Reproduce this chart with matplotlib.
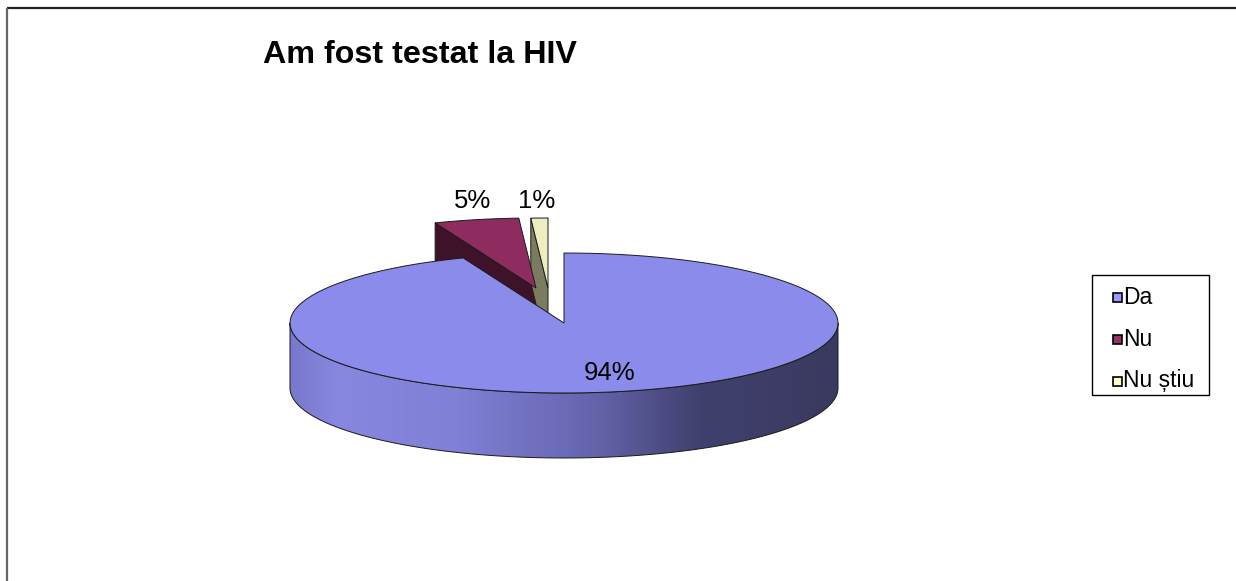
import numpy as np
import matplotlib.pyplot as plt
from matplotlib.patches import Polygon, Rectangle
from matplotlib.colors import LinearSegmentedColormap

plt.rcParams['font.family'] = ['Liberation Sans', 'DejaVu Sans']

labels = ['Da', 'Nu', 'Nu știu']
values = [94, 5, 1]
pct_labels = ['94%', '5%', '1%']
title = 'Am fost testat la HIV'

# styles
top_colors = ['#8B8BEB', '#8E2C60', '#EDEDC0']
face_colors = [None, '#3E1329', '#7B7B5F']
legend_colors = ['#9999FF', '#993366', '#FFFFCC']
explode_px = [(0, 0), (-28, -35), (-16, -35)]
label_pos = [(610, 373), (473, 201), (537, 201)]

W, H = 1236, 581
cx, cy, rx, ry, depth = 564, 323, 274, 70, 65

fig = plt.figure(figsize=(W / 100, H / 100), dpi=100)
ax = fig.add_axes([0, 0, 1, 1])
ax.set_xlim(0, W)
ax.set_ylim(H, 0)
ax.axis('off')

# chart frame (right / bottom edges are cut off)
ax.plot([7, W], [8, 8], color='#222222', lw=1.6, solid_capstyle='butt')
ax.plot([7, 7], [8, H], color='#666666', lw=1.6, solid_capstyle='butt')


def pt(theta, dx=0, dy=0, down=0):
    t = np.radians(theta)
    return cx + dx + rx * np.sin(t), cy + dy - ry * np.cos(t) + down


def arc(a0, a1, dx=0, dy=0, down=0, n=120):
    th = np.linspace(a0, a1, n)
    return [pt(t, dx, dy, down) for t in th]


total = sum(values)
bounds = np.concatenate([[0], np.cumsum(values)]) * 360.0 / total
edge = dict(edgecolor='#1a1a1a', linewidth=0.7)

# exploded small slices at the back
for i in (1, 2):
    a0, a1 = bounds[i], bounds[i + 1]
    dx, dy = explode_px[i]
    face = [pt(a0, dx, dy), (cx + dx, cy + dy), (cx + dx, cy + dy + depth),
            pt(a0, dx, dy, depth)]
    ax.add_patch(Polygon(face, closed=True, facecolor=face_colors[i], zorder=2, **edge))
    top = [(cx + dx, cy + dy)] + arc(a0, a1, dx, dy)
    ax.add_patch(Polygon(top, closed=True, facecolor=top_colors[i], zorder=3, **edge))

# big slice: front side with shading
a0, a1 = bounds[0], bounds[1]
side = arc(90, 270) + arc(270, 90, down=depth)
side_patch = Polygon(side, closed=True, facecolor='none', zorder=5, **edge)
ax.add_patch(side_patch)
shade = LinearSegmentedColormap.from_list('shade', [
    (0.00, '#7878CC'), (0.08, '#8787E0'), (0.30, '#8080D6'),
    (0.55, '#6565AE'), (0.75, '#40406E'), (1.00, '#3A3A60')])
grad = np.linspace(0, 1, 400).reshape(1, -1)
img = ax.imshow(grad, cmap=shade, aspect='auto', zorder=4,
                extent=(cx - rx, cx + rx, cy + depth + ry + 2, cy - 2))
img.set_clip_path(side_patch)
ax.set_xlim(0, W)
ax.set_ylim(H, 0)

top = [(cx, cy)] + arc(a0, a1)
ax.add_patch(Polygon(top, closed=True, facecolor=top_colors[0], zorder=6, **edge))

for (x, y), s in zip(label_pos, pct_labels):
    ax.text(x, y, s, fontsize=18.5, ha='center', va='center', zorder=8)

ax.text(263, 63, title, fontsize=23.2, fontweight='bold', ha='left', va='baseline')

# legend
ax.add_patch(Rectangle((1092, 275), 117, 120, facecolor='white',
                       edgecolor='black', linewidth=1.0, zorder=7))
for k, (lab, col) in enumerate(zip(labels, legend_colors)):
    yy = 297 + 42 * k
    ax.add_patch(Rectangle((1113, yy - 4.5), 9, 9, facecolor=col,
                           edgecolor='black', linewidth=1.2, zorder=8))
    ax.text(1123, yy, lab, fontsize=16.5, ha='left', va='center', zorder=8)

fig.savefig('out.png', dpi=100)
